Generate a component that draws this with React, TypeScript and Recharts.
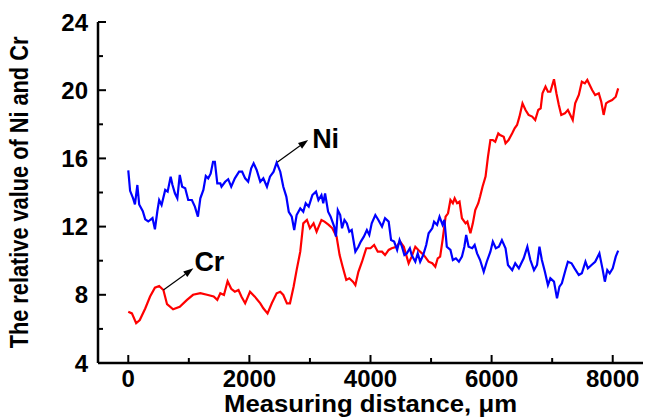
import React from 'react';
import { LineChart, Line, XAxis, YAxis, ReferenceLine, Label } from 'recharts';

// [distance (um), relative value]
const niPoints: [number, number][] = [
  [0, 15.3], [30, 14.1], [80, 13.65], [110, 13.3], [150, 14.44], [180, 13.3], [240, 12.9], [280, 12.43],
  [330, 12.3], [400, 12.5], [440, 11.84], [480, 12.9], [510, 13.56], [550, 13.27], [610, 14.15], [650, 14.05],
  [700, 14.93], [730, 14.44], [770, 13.95], [810, 13.66], [850, 15.03], [890, 14.34], [940, 14.25], [990, 13.56],
  [1050, 13.56], [1100, 13.17], [1150, 12.58], [1190, 13.66], [1240, 14.15], [1280, 14.97], [1320, 14.83], [1360, 15.1],
  [1400, 15.8], [1430, 15.8], [1470, 14.54], [1520, 14.54], [1540, 14.34], [1600, 14.63], [1650, 14.78], [1700, 14.34],
  [1760, 14.83], [1830, 15.22], [1880, 15.22], [1930, 14.83], [1980, 14.63], [2030, 15.42], [2070, 15.71], [2120, 15.32],
  [2180, 14.63], [2230, 14.83], [2290, 14.34], [2340, 14.93], [2400, 15.22], [2450, 15.75], [2510, 15.22], [2560, 14.34],
  [2610, 13.76], [2650, 12.87], [2700, 12.58], [2740, 11.8], [2780, 12.68], [2840, 13.07], [2890, 12.87], [2930, 13.37],
  [2980, 13.17], [3040, 13.85], [3100, 14.05], [3140, 13.56], [3190, 13.85], [3220, 13.37], [3250, 13.95], [3300, 12.87],
  [3340, 12.6], [3400, 12.0], [3430, 11.41], [3460, 12.97], [3500, 12.68], [3530, 11.9], [3570, 12.39], [3610, 12.19],
  [3650, 11.7], [3690, 11.8], [3750, 10.53], [3800, 10.82], [3840, 11.12], [3890, 11.41], [3940, 11.8], [3980, 11.51],
  [4020, 12.19], [4080, 12.68], [4130, 12.39], [4190, 12.0], [4240, 12.49], [4300, 12.29], [4340, 11.21], [4390, 11.12],
  [4440, 10.63], [4480, 11.21], [4520, 10.82], [4560, 10.33], [4600, 10.43], [4650, 10.73], [4680, 10.33], [4740, 9.94],
  [4780, 10.43], [4820, 9.94], [4870, 10.33], [4920, 10.92], [4960, 11.61], [5020, 11.9], [5050, 12.29], [5100, 12.1],
  [5140, 12.58], [5190, 12.1], [5220, 12.39], [5260, 10.82], [5320, 10.63], [5360, 10.04], [5410, 10.14], [5460, 9.94],
  [5510, 10.24], [5550, 10.82], [5580, 11.51], [5620, 10.82], [5680, 10.73], [5720, 10.92], [5760, 10.43], [5810, 10.04],
  [5870, 9.35], [5920, 9.94], [5980, 10.53], [6020, 11.12], [6070, 10.73], [6120, 10.82], [6170, 11.21], [6230, 10.73],
  [6270, 9.75], [6340, 9.45], [6390, 9.85], [6450, 9.55], [6490, 9.85], [6530, 10.14], [6590, 10.82], [6640, 10.04],
  [6700, 9.45], [6750, 9.75], [6790, 10.82], [6830, 10.04], [6880, 9.35], [6930, 8.57], [6970, 8.97], [7030, 8.77],
  [7080, 7.79], [7120, 8.48], [7160, 8.67], [7220, 9.45], [7260, 9.94], [7320, 9.85], [7370, 9.55], [7440, 9.16],
  [7490, 9.26], [7550, 9.94], [7590, 9.55], [7650, 9.75], [7710, 9.94], [7780, 10.43], [7830, 9.55], [7870, 8.77],
  [7910, 9.45], [7950, 9.26], [8000, 9.55], [8050, 10.24], [8090, 10.59],
];

const crPoints: [number, number][] = [
  [0, 7.01], [60, 6.91], [130, 6.33], [190, 6.52], [280, 7.2], [360, 7.9], [440, 8.42], [510, 8.52],
  [580, 8.28], [640, 7.45], [740, 7.15], [850, 7.3], [970, 7.7], [1070, 8.0], [1190, 8.1], [1300, 8.0],
  [1410, 7.9], [1470, 7.7], [1520, 8.09], [1580, 7.99], [1640, 8.8], [1700, 8.35], [1760, 8.18], [1820, 8.28],
  [1870, 7.89], [1930, 7.5], [2010, 8.18], [2090, 7.89], [2180, 7.5], [2230, 7.21], [2300, 6.91], [2370, 7.5],
  [2450, 8.09], [2510, 8.18], [2560, 7.99], [2620, 7.5], [2670, 7.5], [2730, 8.47], [2780, 9.45], [2840, 10.53],
  [2890, 12.19], [2950, 12.39], [3000, 11.9], [3060, 12.19], [3110, 11.7], [3190, 12.39], [3240, 12.29], [3310, 12.1],
  [3370, 11.9], [3440, 11.41], [3490, 10.33], [3540, 9.65], [3600, 8.87], [3650, 8.97], [3710, 8.77], [3750, 8.57],
  [3800, 9.35], [3860, 9.94], [3930, 10.73], [4000, 10.73], [4060, 10.92], [4120, 10.53], [4190, 10.53], [4240, 10.33],
  [4300, 10.63], [4350, 10.73], [4430, 10.82], [4490, 11.12], [4550, 10.82], [4590, 10.33], [4630, 9.85], [4680, 10.24],
  [4740, 10.82], [4790, 10.63], [4850, 10.43], [4900, 10.24], [4960, 9.94], [5020, 9.85], [5070, 9.65], [5110, 10.14],
  [5150, 10.24], [5190, 11.21], [5240, 12.58], [5280, 12.78], [5320, 13.56], [5360, 13.37], [5390, 13.66], [5430, 13.37],
  [5470, 13.46], [5510, 12.49], [5570, 12.19], [5600, 12.29], [5650, 11.61], [5690, 12.19], [5730, 12.97], [5780, 13.37],
  [5810, 13.76], [5850, 14.34], [5900, 14.93], [5940, 16.1], [5980, 17.08], [6020, 17.08], [6060, 16.98], [6110, 17.47],
  [6140, 17.37], [6200, 17.27], [6230, 16.89], [6280, 17.08], [6340, 17.47], [6380, 17.77], [6420, 17.96], [6460, 18.45],
  [6510, 19.23], [6560, 18.84], [6610, 18.55], [6670, 18.45], [6720, 18.25], [6770, 18.84], [6810, 18.94], [6840, 19.82],
  [6890, 20.21], [6930, 19.91], [6970, 19.91], [7030, 20.64], [7070, 19.82], [7110, 19.13], [7150, 18.55], [7210, 18.64],
  [7260, 18.84], [7300, 18.55], [7340, 18.25], [7380, 19.23], [7440, 19.72], [7490, 20.5], [7540, 20.4], [7580, 20.6],
  [7620, 20.3], [7660, 20.01], [7710, 19.72], [7770, 19.82], [7810, 19.33], [7850, 18.55], [7890, 19.23], [7930, 19.33],
  [7990, 19.42], [8050, 19.62], [8090, 20.11],
];

const xTicks = [0, 1000, 2000, 3000, 4000, 5000, 6000, 7000, 8000];
const xLabelled = [0, 2000, 4000, 6000, 8000];
const yTicks = [4, 6, 8, 10, 12, 14, 16, 18, 20, 22, 24];
const yLabelled = [4, 8, 12, 16, 20, 24];

// arrow tail -> arrow tip, in data units
const annotations = [
  { text: 'Ni', from: [2460, 15.77], to: [2970, 17.08], dx: 4, dy: 8 },
  { text: 'Cr', from: [580, 8.28], to: [1075, 9.55], dx: 1, dy: 3 },
];

const niData = niPoints.map(([distance, value]) => ({ distance, value }));
const crData = crPoints.map(([distance, value]) => ({ distance, value }));

const FONT = '"Liberation Sans", Arial, sans-serif';

const BottomTick = (props: any) => {
  const { x, y, payload } = props;
  const major = xLabelled.includes(payload.value);
  return (
    <g>
      <line x1={x} y1={y} x2={x} y2={y - (major ? 8 : 5)} stroke="#000" strokeWidth={2} />
      {major && (
        <text x={x} y={y + 24} textAnchor="middle" fontSize={24} fontWeight="bold" fontFamily={FONT} fill="#000">
          {payload.value}
        </text>
      )}
    </g>
  );
};

const LeftTick = (props: any) => {
  const { x, y, payload } = props;
  const major = yLabelled.includes(payload.value);
  return (
    <g>
      <line x1={x} y1={y} x2={x + (major ? 8 : 5)} y2={y} stroke="#000" strokeWidth={2} />
      {major && (
        <text x={x - 10} y={y + 8.5} textAnchor="end" fontSize={24} fontWeight="bold" fontFamily={FONT} fill="#000">
          {payload.value}
        </text>
      )}
    </g>
  );
};

const TopTick = (props: any) => {
  const { x, y, payload } = props;
  const major = xLabelled.includes(payload.value);
  return <line x1={x} y1={y} x2={x} y2={y + (major ? 6 : 4)} stroke="#000" strokeWidth={2} />;
};

const RightTick = (props: any) => {
  const { x, y, payload } = props;
  const major = yLabelled.includes(payload.value);
  return <line x1={x} y1={y} x2={x - (major ? 6 : 4)} y2={y} stroke="#000" strokeWidth={2} />;
};

const arrowShape = (text: string, dx: number, dy: number) => (p: any) => {
  const { x1, y1, x2, y2 } = p;
  const ang = Math.atan2(y2 - y1, x2 - x1);
  const len = 10;
  const w = 3.5;
  const bx = x2 - len * Math.cos(ang);
  const by = y2 - len * Math.sin(ang);
  const px = -Math.sin(ang) * w;
  const py = Math.cos(ang) * w;
  return (
    <g>
      <line x1={x1} y1={y1} x2={bx} y2={by} stroke="#000" strokeWidth={1.2} />
      <polygon points={`${x2},${y2} ${bx + px},${by + py} ${bx - px},${by - py}`} fill="#000" />
      <text x={x2 + dx} y={y2 + dy} fontSize={27} fontWeight="bold" fontFamily={FONT} fill="#000">
        {text}
      </text>
    </g>
  );
};

const App: React.FC = () => {
  return (
    <div style={{ width: 645, height: 420, background: '#fff' }}>
      <style>{'body{margin:0}'}</style>
      <LineChart width={645} height={420} margin={{ top: 22, right: 2, bottom: 0, left: 0 }}>
        <XAxis
          dataKey="distance"
          type="number"
          domain={[-500, 8500]}
          ticks={xTicks}
          interval={0}
          height={57}
          tickSize={0}
          tickMargin={0}
          tick={<BottomTick />}
          axisLine={{ stroke: '#000', strokeWidth: 2.5 }}
          tickLine={false}
        >
          <Label
            content={({ viewBox }: any) => (
              <text
                x={viewBox.x + viewBox.width / 2}
                y={viewBox.y + 49}
                textAnchor="middle"
                fontSize={24}
                fontWeight="bold"
                fontFamily={FONT}
                textLength={293}
                lengthAdjust="spacingAndGlyphs"
                fill="#000"
              >
                Measuring distance, μm
              </text>
            )}
          />
        </XAxis>
        <XAxis
          xAxisId="top"
          orientation="top"
          type="number"
          domain={[-500, 8500]}
          ticks={xTicks}
          interval={0}
          height={0}
          tickSize={0}
          tickMargin={0}
          tick={<TopTick />}
          axisLine={{ stroke: '#000', strokeWidth: 2.5 }}
          tickLine={false}
        />
        <YAxis
          type="number"
          domain={[4, 24]}
          ticks={yTicks}
          interval={0}
          width={98}
          tickSize={0}
          tickMargin={0}
          tick={<LeftTick />}
          axisLine={{ stroke: '#000', strokeWidth: 2.5 }}
          tickLine={false}
        >
          <Label
            content={({ viewBox }: any) => {
              const cx = 28;
              const cy = viewBox.y + viewBox.height / 2;
              return (
                <g transform={`translate(${cx}, ${cy}) rotate(-90) scale(0.87, 1)`}>
                  <text x={0} y={0} textAnchor="middle" fontSize={25} fontWeight="bold" fontFamily={FONT} fill="#000">
                    The relative value of Ni and Cr
                  </text>
                </g>
              );
            }}
          />
        </YAxis>
        <YAxis
          yAxisId="right"
          orientation="right"
          type="number"
          domain={[4, 24]}
          ticks={yTicks}
          interval={0}
          width={0}
          tickSize={0}
          tickMargin={0}
          tick={<RightTick />}
          axisLine={{ stroke: '#000', strokeWidth: 2.5 }}
          tickLine={false}
        />
        <Line data={crData} dataKey="value" type="linear" stroke="#ff0000" strokeWidth={2.2} dot={false} isAnimationActive={false} />
        <Line data={niData} dataKey="value" type="linear" stroke="#0000ff" strokeWidth={2.2} dot={false} isAnimationActive={false} />
        {annotations.map((a) => (
          <ReferenceLine
            key={a.text}
            segment={[
              { x: a.from[0], y: a.from[1] },
              { x: a.to[0], y: a.to[1] },
            ]}
            shape={arrowShape(a.text, a.dx, a.dy)}
          />
        ))}
      </LineChart>
    </div>
  );
};

export default App;
